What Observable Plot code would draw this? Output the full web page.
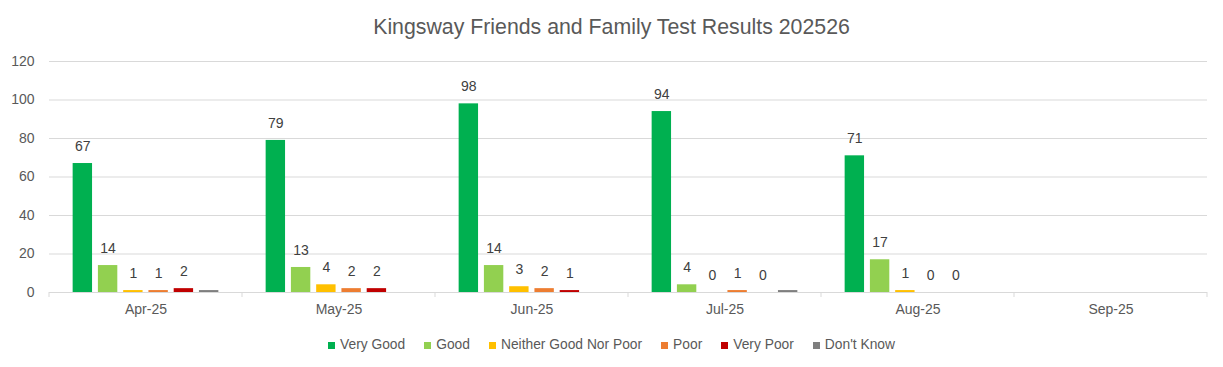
<!DOCTYPE html>
<html><head><meta charset="utf-8">
<script src="https://cdn.jsdelivr.net/npm/d3@7"></script>
<script src="https://cdn.jsdelivr.net/npm/@observablehq/plot@0.6"></script>
<style>
body{margin:0;background:#fff;font-family:"Liberation Sans",Arial,sans-serif;}
#wrap{width:1223px;height:367px;position:relative;overflow:hidden;background:#fff}
#title{position:absolute;top:14px;left:0;width:1223px;text-align:center;font-size:21.3px;line-height:26px;color:#595959;}
#chart{position:absolute;top:48px;left:0}
#legend{position:absolute;top:337px;left:0;width:1223px;display:flex;justify-content:center;gap:19px;font-size:13.8px;line-height:16px;color:#595959}
.item{display:flex;align-items:center;gap:5px}
.sw{width:7px;height:7px;display:inline-block}
</style></head>
<body><div id="wrap"><div id="title">Kingsway Friends and Family Test Results 202526</div><div id="chart"></div><div id="legend"></div></div>
<script>
const months = ["Apr-25","May-25","Jun-25","Jul-25","Aug-25","Sep-25"];
const series = ["Very Good","Good","Neither Good Nor Poor","Poor","Very Poor","Don't Know"];
const colors = ["#00B050","#92D050","#FFC000","#ED7D31","#C00000","#7F7F7F"];
const veryGood = [67,79,98,94,71,null];
const good = [14,13,14,4,17,null];
const neither = [1,4,3,0,1,null];
const poor = [1,2,2,1,0,null];
const veryPoor = [2,2,1,0,0,null];
const dontKnow = [1,null,null,1,null,null];
const labelled = [true,true,true,true,true,false];
const yTicks = [0,20,40,60,80,100,120];

const valuesBySeries = [veryGood, good, neither, poor, veryPoor, dontKnow];
const rows = [];
series.forEach((s, si) => {
  months.forEach((m, mi) => {
    const v = valuesBySeries[si][mi];
    if (v !== null) rows.push({month: m, series: s, value: v, label: labelled[si]});
  });
});
const labelRows = rows.filter(d => d.label);
// one grid row per month and tick so every facet (even empty Sep-25) is drawn
const gridRows = months.flatMap(m => yTicks.map(t => ({month: m, tick: t})));

const plot = Plot.plot({
  width: 1223,
  height: 280,
  marginLeft: 48,
  marginRight: 16,
  marginTop: 13,
  marginBottom: 36,
  style: {fontFamily: '"Liberation Sans", Arial, sans-serif', background: "#fff"},
  fx: {domain: months, padding: 0},
  x: {domain: series, paddingInner: 0.232, paddingOuter: 0.936, round: false, axis: null},
  y: {domain: [0, 120]},
  color: {domain: series, range: colors},
  marks: [
    Plot.ruleY(gridRows, {fx: "month", y: "tick", stroke: "#d9d9d9", strokeOpacity: 1}),
    Plot.barY(rows, {fx: "month", x: "series", y: "value", fill: "series"}),
    Plot.text(labelRows, {fx: "month", x: "series", y: "value", text: d => String(d.value), dy: -17, fill: "#404040", fontSize: 14}),
    Plot.axisY({ticks: yTicks, tickSize: 0, tickPadding: 15, fontSize: 14, color: "#595959", label: null}),
    Plot.axisFx({anchor: "bottom", tickSize: 0, tickPadding: 12, fontSize: 14, color: "#595959", label: null})
  ]
});

// category boundary ticks, from the fx and y scales
const fxs = plot.scale("fx"), ys = plot.scale("y");
const y0 = ys.apply(0);
const bounds = months.map(m => fxs.apply(m));
bounds.push(fxs.apply(months[months.length - 1]) + fxs.bandwidth);
d3.select(plot).append("g").selectAll("line").data(bounds).join("line")
  .attr("x1", d => d).attr("x2", d => d)
  .attr("y1", y0).attr("y2", y0 + 5)
  .attr("stroke", "#d9d9d9");

document.getElementById("chart").appendChild(plot);

const legend = d3.select("#legend");
series.forEach((s, i) => {
  const it = legend.append("div").attr("class", "item");
  it.append("span").attr("class", "sw").style("background", colors[i]);
  it.append("span").text(s);
});
</script>
</body></html>
